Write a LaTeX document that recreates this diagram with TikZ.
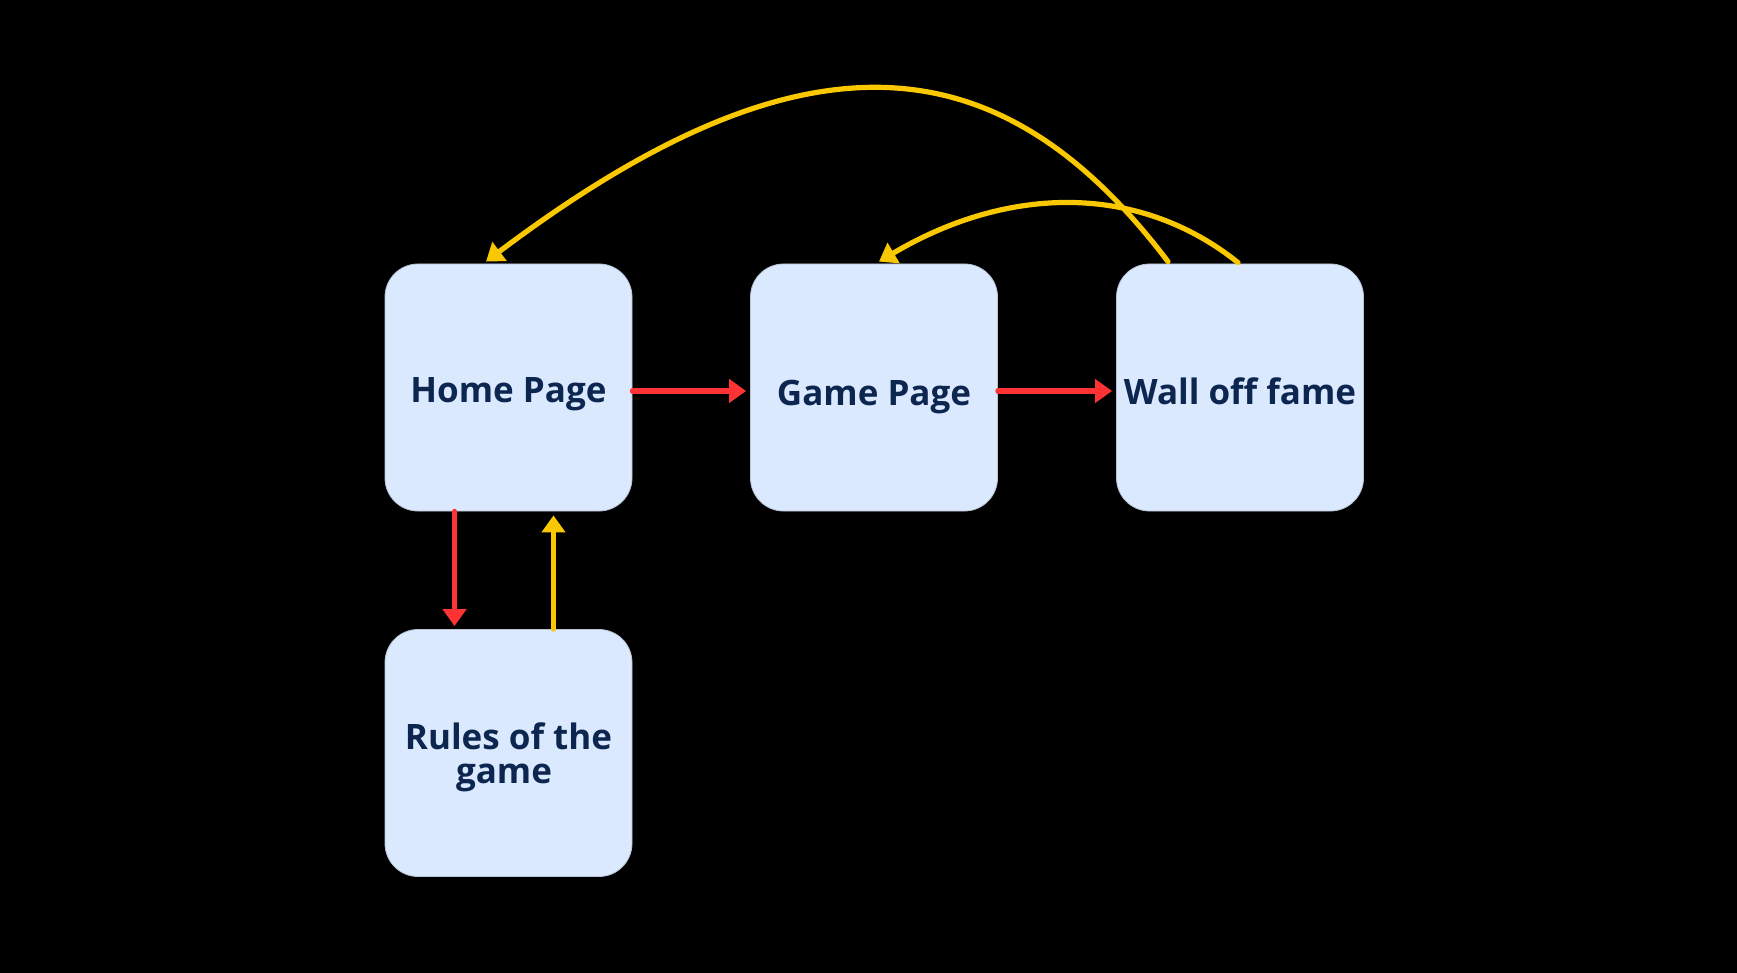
\documentclass[tikz,border=0pt]{standalone}
\usepackage{fontspec}
\setmainfont{Open Sans}
\usetikzlibrary{arrows.meta}
\definecolor{boxfill}{HTML}{DBE9FE}
\definecolor{boxedge}{HTML}{B8C4D4}
\definecolor{txt}{HTML}{0C2650}
\definecolor{redline}{HTML}{FF3333}
\definecolor{yelline}{HTML}{FAC800}
\tikzset{
  pagebox/.style={rectangle, rounded corners=33pt, fill=boxfill, draw=boxedge, line width=0.8pt,
    minimum width=247pt, minimum height=247pt, inner sep=0pt, align=center,
    text=txt, font=\fontsize{35}{34}\selectfont\bfseries},
  link/.style={line width=5.2pt, line cap=round, -{Triangle[length=17pt,width=23pt]}},
  fwd/.style={link, draw=redline},
  back/.style={link, draw=yelline}
}
\begin{document}
\begin{tikzpicture}[x=1pt,y=-1pt]
\fill[black] (0,0) rectangle (1737,973);
\useasboundingbox (0,0) rectangle (1737,973);
\node[pagebox, text height=33pt, text depth=4pt] (home) at (508.5,387.5) {Home Page};
\node[pagebox, text height=38pt, text depth=2pt] (game) at (874,387.5) {Game Page};
\node[pagebox, text height=36pt, text depth=3pt] (wall) at (1240,387.5) {Wall off fame};
\node[pagebox, text height=64pt, text depth=4pt] (rules) at (508.5,753) {Rules of the\\game\hspace*{9pt}};
\draw[fwd] ([yshift=-3.5pt]home.east) -- ([yshift=-3.5pt,xshift=-4pt]game.west);
\draw[fwd] ([yshift=-3.5pt]game.east) -- ([yshift=-3.5pt,xshift=-4pt]wall.west);
\draw[fwd] ([xshift=-54pt]home.south) -- ([xshift=-54pt,yshift=3pt]rules.north);
\draw[back] ([xshift=45pt]rules.north) -- ([xshift=45pt,yshift=-4pt]home.south);
\draw[back] ([xshift=-72pt,yshift=2pt]wall.north) .. controls (1000,40) and (804,22) .. ([xshift=-22.5pt,yshift=2pt]home.north);
\draw[back] ([xshift=-2pt,yshift=1pt]wall.north) .. controls (1140,184) and (1010,184) .. ([xshift=5pt,yshift=2pt]game.north);
\end{tikzpicture}
\end{document}
